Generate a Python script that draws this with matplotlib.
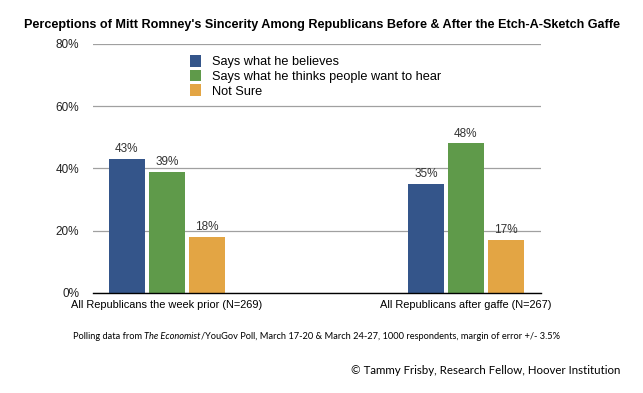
import numpy as np
import matplotlib.pyplot as plt

plt.rcParams['font.family'] = ['Liberation Sans', 'DejaVu Sans']

groups = ["All Republicans the week prior (N=269)", "All Republicans after gaffe (N=267)"]
series = ["Says what he believes", "Says what he thinks people want to hear", "Not Sure"]
values = [[43, 35], [39, 48], [18, 17]]
colors = ["#34558a", "#5f9a4a", "#e3a544"]
yticks = [0, 20, 40, 60, 80]

fig = plt.figure(figsize=(6.43, 3.93), dpi=100)
ax = fig.add_axes([0.1446, 0.2545, 0.6967, 0.634])

x = np.arange(len(groups))
w = 0.12
step = 0.134
for i, (name, vals, c) in enumerate(zip(series, values, colors)):
    pos = x + (i - 1) * step
    ax.bar(pos, vals, width=w, color=c, label=name, zorder=3)
    for p, v in zip(pos, vals):
        ax.text(p, v + 1.2, f"{v}%", ha="center", va="bottom", fontsize=8.5, color="#333333", zorder=4)

ax.set_xlim(-0.2475, 1.251)
ax.set_ylim(0, 80)
ax.set_yticks(yticks)
ax.set_yticklabels([f"{t}%" for t in yticks], fontsize=8.5, color="#222222")
ax.yaxis.grid(True, color="#a0a0a0", linewidth=0.9, zorder=0)
ax.set_xticks(x)
ax.set_xticklabels(groups, fontsize=7.9)
ax.tick_params(axis="x", length=0, pad=5)
ax.tick_params(axis="y", length=0, pad=10)
for s in ["top", "right", "left"]:
    ax.spines[s].set_visible(False)
ax.spines["bottom"].set_color("black")
ax.spines["bottom"].set_linewidth(1.0)
ax.spines["bottom"].set_zorder(5)

ax.legend(loc="upper left", bbox_to_anchor=(0.205, 0.975), frameon=False, fontsize=9.2,
          handlelength=0.9, handleheight=1.0, handletextpad=0.85, labelspacing=0.12,
          borderaxespad=0)

fig.text(0.5, 0.936, "Perceptions of Mitt Romney's Sincerity Among Republicans Before & After the Etch-A-Sketch Gaffe",
         ha="center", va="center", fontsize=9.1, fontweight="bold")

# footer note with italic publication name, drawn piece by piece
parts = [("Polling data from ", "normal"), ("The Economist", "italic"),
         ("/YouGov Poll, March 17-20 & March 24-27, 1000 respondents, margin of error +/- 3.5%", "normal")]
renderer = fig.canvas.get_renderer()
xpos = 0.113
for txt, style in parts:
    t = fig.text(xpos, 0.145, txt, ha="left", va="center", fontsize=6.65, family="Lato", style=style)
    bb = t.get_window_extent(renderer=renderer)
    xpos += bb.width / fig.bbox.width

fig.text(0.965, 0.058, "\u00a9 Tammy Frisby, Research Fellow, Hoover Institution",
         ha="right", va="center", fontsize=8.3, family="Lato")

fig.savefig("out.png", dpi=100)
